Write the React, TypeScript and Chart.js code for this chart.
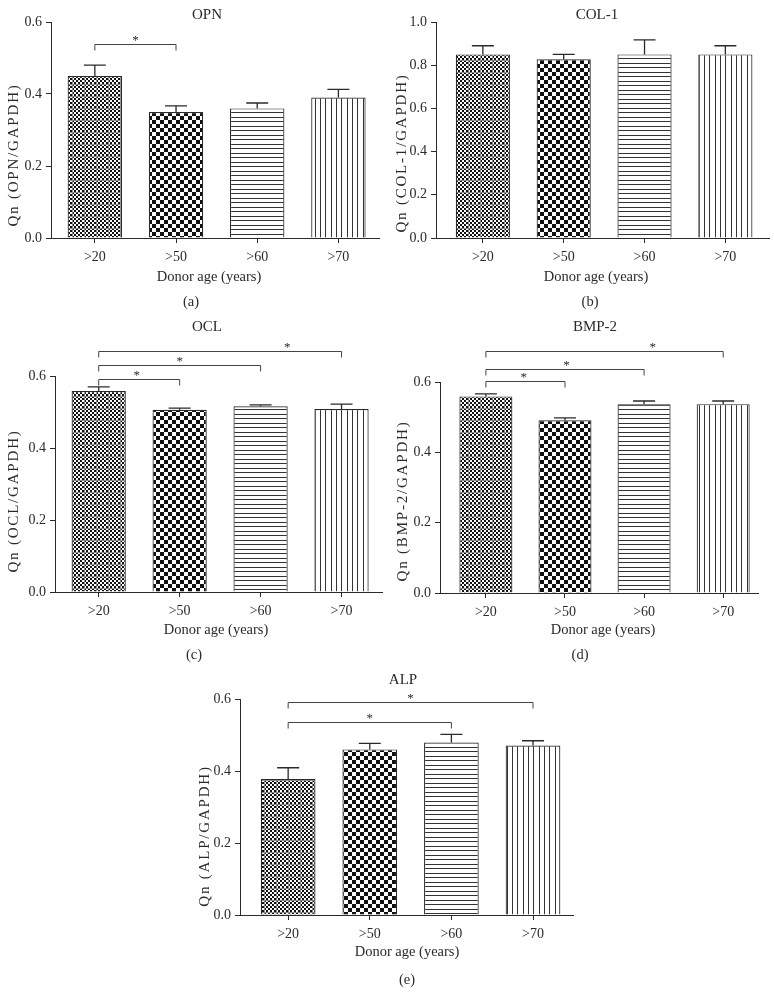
import { useEffect, useRef } from "react";
import { Chart, registerables } from "chart.js";

Chart.register(...registerables);

// ---------- data ----------
const categories = [">20", ">50", ">60", ">70"];
const xAxisTitle = "Donor age (years)";

const yTicks06 = [0.0, 0.2, 0.4, 0.6];
const yTicks10 = [0.0, 0.2, 0.4, 0.6, 0.8, 1.0];

const opnMeans = [0.45, 0.35, 0.36, 0.39];
const opnSem = [0.03, 0.017, 0.015, 0.023];

const col1Means = [0.85, 0.827, 0.85, 0.85];
const col1Sem = [0.04, 0.023, 0.067, 0.04];

const oclMeans = [0.558, 0.506, 0.516, 0.508];
const oclSem = [0.012, 0.005, 0.004, 0.014];

const bmp2Means = [0.559, 0.491, 0.537, 0.537];
const bmp2Sem = [0.007, 0.007, 0.009, 0.009];

const alpMeans = [0.378, 0.46, 0.479, 0.471];
const alpSem = [0.031, 0.017, 0.023, 0.013];

// significance brackets: [from category, to category, bracket level (y value), star position (category units)]
const opnSig = [[1, 2, 0.539, 1.5]];
const col1Sig: number[][] = [];
const oclSig = [
  [1, 2, 0.593, 1.47],
  [1, 3, 0.63, 2.0],
  [1, 4, 0.669, 3.33],
];
const bmp2Sig = [
  [1, 2, 0.6035, 1.48],
  [1, 3, 0.636, 2.02],
  [1, 4, 0.687, 3.11],
];
const alpSig = [
  [1, 3, 0.535, 2.0],
  [1, 4, 0.593, 2.5],
];

// ---------- layout / style ----------
const INK = "#2a2a2a";
const FONT = '"Liberation Serif", "DejaVu Serif", serif';
const CAP = 22;
const DROP = 6;

type Panel = {
  title: string;
  yTitle: string;
  caption: string;
  means: number[];
  sem: number[];
  sig: number[][];
  yTicks: number[];
  panelLeft: number;
  area: [number, number, number, number]; // left, top, right, bottom
  xRange: [number, number];
  titlePos: [number, number];
  yTitlePos: [number, number];
  xTitlePos: [number, number];
  captionPos: [number, number];
};

const panels: Panel[] = [
  {
    title: "OPN", yTitle: "Qn (OPN/GAPDH)", caption: "(a)",
    means: opnMeans, sem: opnSem, sig: opnSig, yTicks: yTicks06,
    panelLeft: 0, area: [51, 22, 379, 238], xRange: [0.46, 4.5],
    titlePos: [207, 15], yTitlePos: [14, 155], xTitlePos: [209, 277], captionPos: [191, 302],
  },
  {
    title: "COL-1", yTitle: "Qn (COL-1/GAPDH)", caption: "(b)",
    means: col1Means, sem: col1Sem, sig: col1Sig, yTicks: yTicks10,
    panelLeft: 390, area: [436, 22, 769, 238], xRange: [0.42, 4.54],
    titlePos: [597, 15], yTitlePos: [402, 153], xTitlePos: [596, 277], captionPos: [590, 302],
  },
  {
    title: "OCL", yTitle: "Qn (OCL/GAPDH)", caption: "(c)",
    means: oclMeans, sem: oclSem, sig: oclSig, yTicks: yTicks06,
    panelLeft: 0, area: [55, 376, 382, 592], xRange: [0.46, 4.5],
    titlePos: [207, 327], yTitlePos: [14, 501], xTitlePos: [216, 630], captionPos: [194, 655],
  },
  {
    title: "BMP-2", yTitle: "Qn (BMP-2/GAPDH)", caption: "(d)",
    means: bmp2Means, sem: bmp2Sem, sig: bmp2Sig, yTicks: yTicks06,
    panelLeft: 390, area: [440, 382, 758, 593], xRange: [0.42, 4.44],
    titlePos: [595, 327], yTitlePos: [403, 501], xTitlePos: [603, 630], captionPos: [580, 655],
  },
  {
    title: "ALP", yTitle: "Qn (ALP/GAPDH)", caption: "(e)",
    means: alpMeans, sem: alpSem, sig: alpSig, yTicks: yTicks06,
    panelLeft: 190, area: [240, 699, 573, 915], xRange: [0.41, 4.49],
    titlePos: [403, 680], yTitlePos: [205, 836], xTitlePos: [407, 952], captionPos: [407, 980],
  },
];

function makePatterns(): CanvasPattern[] {
  const mk = (w: number, h: number, draw: (c: CanvasRenderingContext2D) => void) => {
    const cv = document.createElement("canvas");
    cv.width = w;
    cv.height = h;
    const c = cv.getContext("2d")!;
    c.fillStyle = "#fff";
    c.fillRect(0, 0, w, h);
    draw(c);
    return c.createPattern(cv, "repeat")!;
  };
  // fine checker with faint grid
  const p1 = mk(12, 12, (c) => {
    c.fillStyle = "#111";
    for (let y = 0; y < 12; y += 2)
      for (let x = 0; x < 12; x += 2)
        if (((x + y) / 2) % 2 === 0) c.fillRect(x, y, 2, 2);
    c.fillStyle = "#8a8a8a";
    c.fillRect(0, 0, 12, 1);
    c.fillRect(0, 0, 1, 12);
  });
  // coarse checker
  const p2 = mk(8, 8, (c) => {
    c.fillStyle = "#111";
    c.fillRect(0, 0, 4, 4);
    c.fillRect(4, 4, 4, 4);
  });
  // horizontal lines
  const p3 = mk(4, 9, (c) => {
    c.fillStyle = "#333";
    c.fillRect(0, 0, 4, 1);
    c.fillRect(0, 4, 4, 1);
  });
  // vertical lines
  const p4 = mk(16, 4, (c) => {
    c.fillStyle = "#333";
    c.fillRect(0, 0, 1, 4);
    c.fillRect(5, 0, 1, 4);
    c.fillRect(11, 0, 1, 4);
  });
  return [p1, p2, p3, p4];
}

function annotationPlugin(p: Panel) {
  return {
    id: "annot",
    afterDatasetsDraw(chart: any) {
      const ctx: any = chart.ctx;
      const xs = chart.scales.x;
      const ys = chart.scales.y;
      ctx.save();
      // error bars (upper only)
      ctx.strokeStyle = INK;
      ctx.lineWidth = 1.3;
      p.means.forEach((m, i) => {
        const x = xs.getPixelForValue(i + 1);
        const y0 = ys.getPixelForValue(m);
        const y1 = ys.getPixelForValue(m + p.sem[i]);
        ctx.beginPath();
        ctx.moveTo(x, y0);
        ctx.lineTo(x, y1);
        ctx.moveTo(x - CAP / 2, y1);
        ctx.lineTo(x + CAP / 2, y1);
        ctx.stroke();
      });
      // significance brackets
      ctx.strokeStyle = "#444";
      ctx.lineWidth = 1;
      ctx.fillStyle = INK;
      ctx.font = `13px ${FONT}`;
      ctx.textAlign = "center";
      ctx.textBaseline = "alphabetic";
      p.sig.forEach(([a, b, lvl, star]) => {
        const xa = xs.getPixelForValue(a);
        const xb = xs.getPixelForValue(b);
        const y = Math.round(ys.getPixelForValue(lvl)) + 0.5;
        ctx.beginPath();
        ctx.moveTo(xa, y + DROP);
        ctx.lineTo(xa, y);
        ctx.lineTo(xb, y);
        ctx.lineTo(xb, y + DROP);
        ctx.stroke();
        ctx.fillText("*", xs.getPixelForValue(star), y - 0.5);
      });
      // texts
      ctx.fillStyle = INK;
      ctx.textBaseline = "middle";
      ctx.font = `15px ${FONT}`;
      ctx.fillText(p.title, p.titlePos[0], p.titlePos[1]);
      ctx.font = `14.5px ${FONT}`;
      ctx.fillText(xAxisTitle, p.xTitlePos[0], p.xTitlePos[1]);
      ctx.fillText(p.caption, p.captionPos[0], p.captionPos[1]);
      ctx.save();
      ctx.translate(p.yTitlePos[0], p.yTitlePos[1]);
      ctx.rotate(-Math.PI / 2);
      ctx.font = `15px ${FONT}`;
      ctx.letterSpacing = "1.8px";
      ctx.fillText(p.yTitle, 0, 0);
      ctx.letterSpacing = "0px";
      ctx.restore();
      ctx.restore();
    },
  };
}

function buildConfig(p: Panel, patterns: CanvasPattern[]): any {
  const [L, T, R, B] = p.area;
  const xH = 30;
  const gridOpts = {
    display: true,
    drawOnChartArea: false,
    drawTicks: true,
    tickLength: 5,
    color: INK,
    lineWidth: 1,
    offset: false,
  };
  const border = { display: true, color: INK, width: 1 };
  return {
    type: "bar",
    data: {
      datasets: [
        {
          data: p.means.map((v, i) => ({ x: i + 1, y: v })),
          backgroundColor: patterns,
          borderColor: INK,
          borderWidth: 1.2,
          borderSkipped: "bottom",
          categoryPercentage: 1,
          barPercentage: 0.67,
        },
      ],
    },
    options: {
      animation: false,
      responsive: false,
      devicePixelRatio: 1,
      events: [],
      layout: {
        padding: { left: p.panelLeft, top: T, right: 774 - R, bottom: 992 - B - xH },
      },
      plugins: {
        legend: { display: false },
        tooltip: { enabled: false },
        title: { display: false },
      },
      scales: {
        x: {
          type: "linear",
          offset: false,
          min: p.xRange[0],
          max: p.xRange[1],
          afterBuildTicks: (s: any) => {
            s.ticks = categories.map((_, i) => ({ value: i + 1 }));
          },
          afterFit: (s: any) => {
            s.height = xH;
          },
          ticks: {
            callback: (v: number) => categories[Math.round(v) - 1] ?? "",
            font: { family: FONT, size: 14 },
            color: INK,
            padding: 6,
            autoSkip: false,
            maxRotation: 0,
          },
          grid: gridOpts,
          border,
        },
        y: {
          type: "linear",
          min: 0,
          max: p.yTicks[p.yTicks.length - 1],
          afterBuildTicks: (s: any) => {
            s.ticks = p.yTicks.map((v) => ({ value: v }));
          },
          afterFit: (s: any) => {
            s.width = L - p.panelLeft;
          },
          ticks: {
            callback: (v: number) => Number(v).toFixed(1),
            font: { family: FONT, size: 14 },
            color: INK,
            padding: 4,
          },
          grid: gridOpts,
          border,
        },
      },
    },
    plugins: [annotationPlugin(p)],
  };
}

export default function App() {
  const refs = useRef<(HTMLCanvasElement | null)[]>([]);
  useEffect(() => {
    const patterns = makePatterns();
    const charts = panels.map((p, i) => new Chart(refs.current[i]!, buildConfig(p, patterns)));
    return () => charts.forEach((c) => c.destroy());
  }, []);
  return (
    <div style={{ position: "absolute", left: 0, top: 0, width: 774, height: 992, background: "#fff" }}>
      {panels.map((p, i) => (
        <canvas
          key={p.caption}
          ref={(el) => {
            refs.current[i] = el;
          }}
          width={774}
          height={992}
          style={{ position: "absolute", left: 0, top: 0, width: 774, height: 992 }}
        />
      ))}
    </div>
  );
}
